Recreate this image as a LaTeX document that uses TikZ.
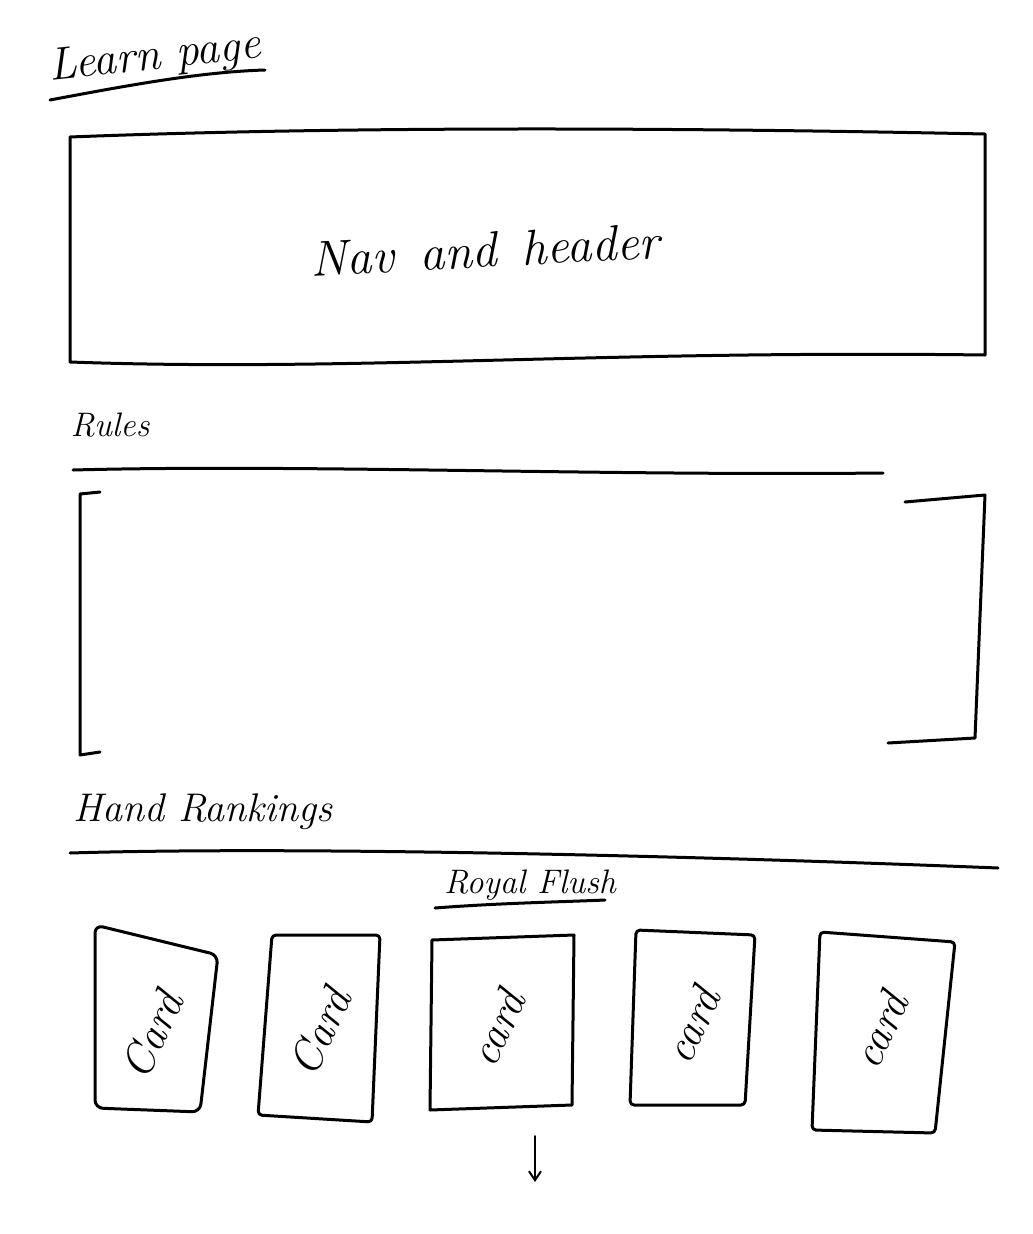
\documentclass[tikz,border=0pt]{standalone}
\usetikzlibrary{arrows.meta}
\begin{document}
\begin{tikzpicture}[x=1pt,y=-1pt,
  ink/.style={line width=3pt,line cap=round,line join=round,black},
  hand/.style={font=\itshape, inner sep=0pt},
  cardtxt/.style={hand,font=\itshape\fontsize{44}{44}\selectfont,rotate=65}]
\useasboundingbox[fill=white] (0,0) rectangle (1033,1234);
% title
\node[hand,font=\itshape\fontsize{46}{46}\selectfont,rotate=6] (title) at (155,58) {Learn page};
\draw[ink] (50,100) .. controls (130,85) and (200,72) .. (265,70);
% nav box
\draw[ink] (70,137) .. controls (300,128) and (600,126) .. (985,134)
  -- (985,355) .. controls (600,350) and (350,372) .. (70,362) -- cycle;
\node[hand,font=\itshape\fontsize{50}{50}\selectfont,rotate=3] (nav) at (485,250) {Nav\hspace{25pt}and\hspace{25pt}header};
% rules
\node[hand,font=\itshape\fontsize{34}{34}\selectfont] (rules) at (110,425) {Rules};
\draw[ink] (73,470) .. controls (300,464) and (600,476) .. (883,473);
\draw[ink] (100,492) -- (80,494) -- (80,755) -- (100,752);
\draw[ink] (905,502) -- (985,495) -- (975,738) -- (888,743);
% hand rankings
\node[hand,font=\itshape\fontsize{40}{40}\selectfont] (hr) at (203,812) {Hand Rankings};
\draw[ink] (70,853) .. controls (300,846) and (700,856) .. (998,868);
\node[hand,font=\itshape\fontsize{34}{34}\selectfont] (rf) at (530,885) {Royal Flush};
\draw[ink] (435,908) .. controls (500,903) and (560,902) .. (605,900);
% cards
\draw[ink,rounded corners=8pt] (95,925) -- (218,955) -- (200,1112) -- (95,1108) -- cycle;
\draw[ink,rounded corners=4pt] (272,935) -- (380,935) -- (372,1122) -- (258,1115) -- cycle;
\draw[ink] (432,940) -- (574,935) -- (572,1105) -- (430,1110) -- cycle;
\draw[ink,rounded corners=4pt] (636,930) -- (755,935) -- (745,1105) -- (630,1105) -- cycle;
\draw[ink,rounded corners=4pt] (820,932) -- (955,942) -- (935,1133) -- (812,1130) -- cycle;
\node[cardtxt] (c1) at (152,1035) {Card};
\node[cardtxt] (c2) at (320,1032) {Card};
\node[cardtxt] (c3) at (497,1028) {card};
\node[cardtxt] (c4) at (692,1025) {card};
\node[cardtxt] (c5) at (880,1030) {card};
% arrow
\coordinate (a1) at (535,1136);
\coordinate (a2) at (535,1182);
\draw[ink,line width=2pt,-{Straight Barb[length=9pt,width=12pt]}] (a1) -- (a2);
\end{tikzpicture}
\end{document}
